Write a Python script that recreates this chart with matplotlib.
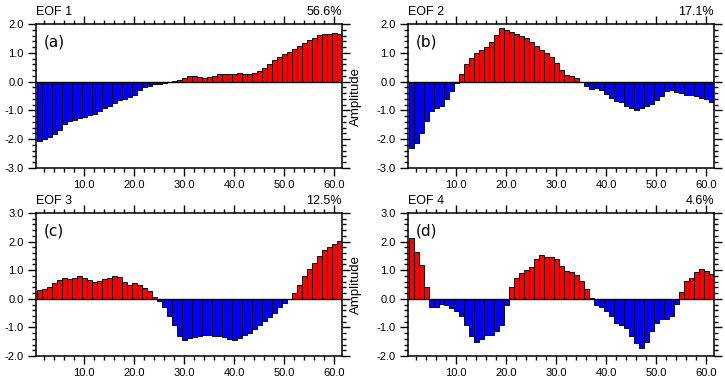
import numpy as np
import matplotlib
matplotlib.use("Agg")
import matplotlib.pyplot as plt
from matplotlib.ticker import MultipleLocator, FormatStrFormatter

plt.rcParams['font.family'] = ['Liberation Sans', 'DejaVu Sans']

# --- data (61 points per EOF) ---
x = np.arange(1, 62)

eof1 = [-2.07, -1.98, -1.91, -1.83, -1.69, -1.48, -1.38, -1.33, -1.26, -1.22,
        -1.17, -1.13, -1.02, -0.92, -0.83, -0.73, -0.64, -0.59, -0.53, -0.48,
        -0.30, -0.20, -0.15, -0.10, -0.07, -0.05, -0.03, 0.02, 0.06, 0.12,
        0.18, 0.20, 0.15, 0.14, 0.17, 0.21, 0.27, 0.27, 0.27, 0.28,
        0.29, 0.28, 0.27, 0.30, 0.37, 0.47, 0.60, 0.76, 0.87, 0.97,
        1.02, 1.12, 1.22, 1.35, 1.44, 1.52, 1.62, 1.65, 1.66, 1.69, 1.64]

eof2 = [-2.29, -2.12, -1.79, -1.36, -1.01, -0.92, -0.84, -0.59, -0.31, -0.06,
        0.27, 0.60, 0.83, 0.99, 1.08, 1.19, 1.37, 1.63, 1.85, 1.80,
        1.71, 1.65, 1.58, 1.50, 1.38, 1.24, 1.08, 1.00, 0.85, 0.65,
        0.42, 0.24, 0.19, 0.14, -0.02, -0.17, -0.24, -0.23, -0.29, -0.43,
        -0.58, -0.66, -0.72, -0.83, -0.92, -0.99, -0.92, -0.86, -0.78, -0.65,
        -0.51, -0.31, -0.28, -0.35, -0.41, -0.47, -0.48, -0.49, -0.56, -0.62, -0.72]

eof3 = [0.30, 0.35, 0.41, 0.55, 0.66, 0.73, 0.70, 0.74, 0.79, 0.73,
        0.64, 0.58, 0.62, 0.70, 0.74, 0.78, 0.77, 0.60, 0.50, 0.56,
        0.49, 0.37, 0.26, 0.05, -0.09, -0.29, -0.60, -0.93, -1.29, -1.43,
        -1.37, -1.34, -1.30, -1.28, -1.27, -1.29, -1.30, -1.35, -1.42, -1.45,
        -1.38, -1.27, -1.19, -1.05, -0.90, -0.77, -0.65, -0.49, -0.29, -0.14,
        -0.01, 0.21, 0.48, 0.79, 1.05, 1.26, 1.49, 1.71, 1.81, 1.92, 2.02]

eof4 = [2.12, 1.63, 1.17, 0.41, -0.29, -0.27, -0.17, -0.23, -0.33, -0.41,
        -0.61, -0.92, -1.30, -1.51, -1.41, -1.26, -1.26, -1.13, -0.92, -0.20,
        0.42, 0.73, 0.90, 1.01, 1.12, 1.39, 1.53, 1.46, 1.45, 1.38,
        1.16, 0.98, 0.92, 0.84, 0.63, 0.33, 0.02, -0.21, -0.30, -0.41,
        -0.61, -0.83, -0.93, -1.03, -1.30, -1.53, -1.72, -1.51, -1.12, -0.84,
        -0.72, -0.71, -0.61, -0.19, 0.25, 0.62, 0.73, 0.95, 1.04, 0.96, 0.86]

series = [eof1, eof2, eof3, eof4]
titles = ["EOF 1", "EOF 2", "EOF 3", "EOF 4"]
variance = ["56.6%", "17.1%", "12.5%", "4.6%"]
panel_tags = ["(a)", "(b)", "(c)", "(d)"]
ylims = [(-3, 2), (-3, 2), (-2, 3), (-2, 3)]

# --- layout (pixel boxes: left, top, right, bottom) ---
W, H = 725, 381
boxes = [(36, 24, 342, 168), (408, 24, 714, 168),
         (36, 213, 342, 356), (408, 213, 714, 356)]

fig = plt.figure(figsize=(W / 100, H / 100), dpi=100)

for i, vals in enumerate(series):
    l, t, r, b = boxes[i]
    ax = fig.add_axes([l / W, (H - b) / H, (r - l) / W, (b - t) / H])
    vals = np.array(vals)
    colors = np.where(vals >= 0, '#ff0000', '#0000ff')
    ax.bar(x, vals, width=1.0, color=colors, edgecolor='#111111', linewidth=0.7)
    ax.axhline(0, color='black', linewidth=1.0)

    ax.set_xlim(0.4, 61.6)
    ax.set_ylim(*ylims[i])
    ax.xaxis.set_major_locator(MultipleLocator(10))
    ax.xaxis.set_minor_locator(MultipleLocator(2))
    ax.yaxis.set_major_locator(MultipleLocator(1))
    ax.yaxis.set_minor_locator(MultipleLocator(0.2))
    ax.xaxis.set_major_formatter(FormatStrFormatter('%.1f'))
    ax.yaxis.set_major_formatter(FormatStrFormatter('%.1f'))
    ax.tick_params(which='both', direction='out', top=True, right=True,
                   labelsize=8, width=1.0)
    ax.tick_params(which='major', length=6, pad=3)
    ax.tick_params(which='minor', length=3)
    for sp in ax.spines.values():
        sp.set_linewidth(1.1)

    ax.text(0.0, 1.045, titles[i], transform=ax.transAxes, ha='left',
            va='bottom', fontsize=9)
    ax.text(1.0, 1.045, variance[i], transform=ax.transAxes, ha='right',
            va='bottom', fontsize=9)
    ax.text(0.025, 0.93, panel_tags[i], transform=ax.transAxes, ha='left',
            va='top', fontsize=11, family='DejaVu Sans')

    if i % 2 == 1:
        ax.set_ylabel('Amplitude', fontsize=9.5)
        ax.yaxis.set_label_coords(-0.15, 0.5)

fig.savefig('out.png', dpi=100)
